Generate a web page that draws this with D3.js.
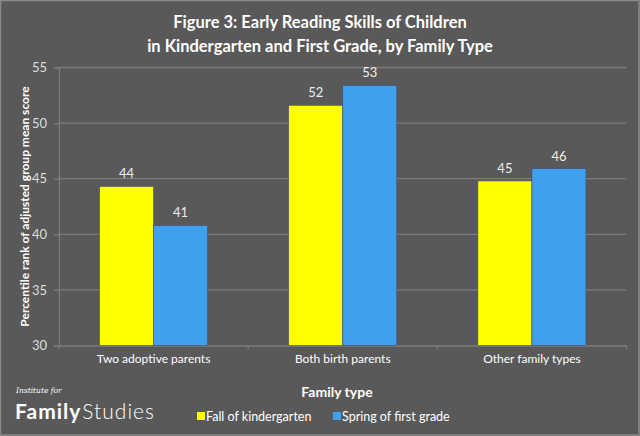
<!DOCTYPE html>
<html>
<head>
<meta charset="utf-8">
<script src="https://cdn.jsdelivr.net/npm/d3@7"></script>
<style>
  body { margin: 0; background: #595959; }
  svg { display: block; font-family: Lato, "Open Sans", sans-serif; }
</style>
</head>
<body>
<div id="chart"></div>
<script>
// data
var categories = ['Two adoptive parents', 'Both birth parents', 'Other family types'];
var seriesNames = ['Fall of kindergarten', 'Spring of first grade'];
var fallValues = [44.3, 51.6, 44.8];
var springValues = [40.8, 53.4, 45.9];
var yTicks = [30, 35, 40, 45, 50, 55];
var titleLines = ['Figure 3: Early Reading Skills of Children', 'in Kindergarten and First Grade, by Family Type'];

var width = 640, height = 436;
var margin = {top: 67.5, right: 13.5, bottom: 90.5, left: 59};
var plotW = width - margin.left - margin.right;
var plotH = height - margin.top - margin.bottom;
var colors = ['#ffff00', '#3fa0ee'];

var svg = d3.select('#chart')
	.append('svg')
		.attr('width', width)
		.attr('height', height);

svg.append('rect')
	.attr('width', width)
	.attr('height', height)
	.attr('fill', '#595959');
// thin light frame like the reference
svg.append('rect')
	.attr('x', 0.5).attr('y', 0.5)
	.attr('width', width - 1.5).attr('height', height - 1.5)
	.attr('fill', 'none')
	.attr('stroke', '#8a8a8a')
	.attr('stroke-width', 1.5);

// title
svg.append('text')
	.attr('x', width / 2)
	.attr('y', 28)
	.attr('text-anchor', 'middle')
	.attr('fill', '#ffffff')
	.style('font-weight', 'bold')
	.style('font-size', '16.5px')
	.selectAll('tspan')
	.data(titleLines).enter()
	.append('tspan')
		.attr('x', width / 2)
		.attr('dy', function(d, i) { return i == 0 ? 0 : 24; })
		.text(function(d) { return d; });

var g = svg.append('g')
	.attr('transform', 'translate(' + margin.left + ',' + margin.top + ')');

var y = d3.scaleLinear()
	.domain([30, 55])
	.range([plotH, 0]);

var x0 = d3.scaleBand()
	.domain(categories)
	.range([0, plotW])
	.paddingInner(0.4286)
	.paddingOuter(0.2143);

var x1 = d3.scaleBand()
	.domain(seriesNames)
	.range([0, x0.bandwidth()]);

// gridlines
g.selectAll('.grid')
	.data(yTicks.slice(1)).enter()
	.append('line')
		.attr('class', 'grid')
		.attr('x1', 0)
		.attr('x2', plotW)
		.attr('y1', function(d) { return y(d); })
		.attr('y2', function(d) { return y(d); })
		.attr('stroke', '#7c7c7c')
		.attr('stroke-width', 1.3);

// y axis
var yAxis = g.append('g')
	.call(d3.axisLeft(y).tickValues(yTicks).tickSize(5).tickPadding(7));
yAxis.select('.domain').attr('stroke', '#7c7c7c').attr('stroke-width', 1.3);
yAxis.selectAll('.tick line').attr('stroke', '#7c7c7c').attr('stroke-width', 1.3);
yAxis.selectAll('text')
	.attr('fill', '#dcdcdc')
	.style('font-size', '13px')
	.style('font-family', 'Lato, sans-serif');

// x axis
var xAxis = g.append('g')
	.attr('transform', 'translate(0,' + plotH + ')')
	.call(d3.axisBottom(x0).tickSize(0).tickPadding(9));
xAxis.select('.domain').attr('stroke', '#7c7c7c').attr('stroke-width', 1.3);
xAxis.selectAll('text')
	.attr('fill', '#ffffff')
	.style('font-size', '12px')
	.style('font-family', 'Lato, sans-serif');
// category separator ticks
g.selectAll('.sep')
	.data(d3.range(categories.length + 1)).enter()
	.append('line')
		.attr('x1', function(d) { return d * x0.step(); })
		.attr('x2', function(d) { return d * x0.step(); })
		.attr('y1', plotH)
		.attr('y2', plotH + 4)
		.attr('stroke', '#7c7c7c')
		.attr('stroke-width', 1.3);

// bars
var rows = categories.map(function(c, i) {
	return {cat: c, vals: [
		{series: seriesNames[0], value: fallValues[i], color: colors[0]},
		{series: seriesNames[1], value: springValues[i], color: colors[1]}
	]};
});

var groups = g.selectAll('.group')
	.data(rows).enter()
	.append('g')
		.attr('class', 'group')
		.attr('transform', function(d) { return 'translate(' + x0(d.cat) + ',0)'; });

groups.selectAll('rect')
	.data(function(d) { return d.vals; }).enter()
	.append('rect')
		.attr('x', function(d) { return x1(d.series); })
		.attr('y', function(d) { return y(d.value); })
		.attr('width', x1.bandwidth())
		.attr('height', function(d) { return plotH - y(d.value); })
		.attr('fill', function(d) { return d.color; })
		.attr('stroke', '#4a4a6a')
		.attr('stroke-width', 0.6);

groups.selectAll('.lbl')
	.data(function(d) { return d.vals; }).enter()
	.append('text')
		.attr('class', 'lbl')
		.attr('x', function(d) { return x1(d.series) + x1.bandwidth() / 2; })
		.attr('y', function(d) { return y(d.value) - 8; })
		.attr('text-anchor', 'middle')
		.attr('fill', '#eeeeee')
		.style('font-size', '13px')
		.text(function(d) { return d3.format('.0f')(d.value); });

// y axis title
svg.append('text')
	.attr('transform', 'translate(29,' + (margin.top + plotH / 2) + ') rotate(-90)')
	.attr('text-anchor', 'middle')
	.attr('fill', '#ffffff')
	.style('font-weight', 'bold')
	.style('font-size', '12px')
	.text('Percentile rank of adjusted group mean score');

// x axis title
svg.append('text')
	.attr('x', 337)
	.attr('y', 397)
	.attr('text-anchor', 'middle')
	.attr('fill', '#ffffff')
	.style('font-weight', 'bold')
	.style('font-size', '14px')
	.text('Family type');

// legend
var legend = svg.append('g')
	.attr('transform', 'translate(197,0)');
var legendX = [0, 136];
legend.selectAll('rect')
	.data(seriesNames).enter()
	.append('rect')
		.attr('x', function(d, i) { return legendX[i]; })
		.attr('y', 412)
		.attr('width', 8)
		.attr('height', 8)
		.attr('fill', function(d, i) { return colors[i]; });
legend.selectAll('text')
	.data(seriesNames).enter()
	.append('text')
		.attr('x', function(d, i) { return legendX[i] + 9; })
		.attr('y', 421)
		.attr('fill', '#ffffff')
		.style('font-size', '12.5px')
		.text(function(d) { return d; });

// logo
svg.append('text')
	.attr('x', 16)
	.attr('y', 393)
	.attr('fill', '#ffffff')
	.style('font-family', '"DejaVu Serif", serif')
	.style('font-style', 'italic')
	.style('font-size', '7.5px')
	.text('Institute for');
var logo = svg.append('text')
	.attr('x', 15)
	.attr('y', 419)
	.attr('fill', '#ffffff')
	.style('font-size', '21px')
	.style('letter-spacing', '1px');
logo.append('tspan').style('font-weight', 'bold').text('Family');
logo.append('tspan').style('font-weight', '300').attr('dx', 1).text('Studies');
</script>
</body>
</html>
